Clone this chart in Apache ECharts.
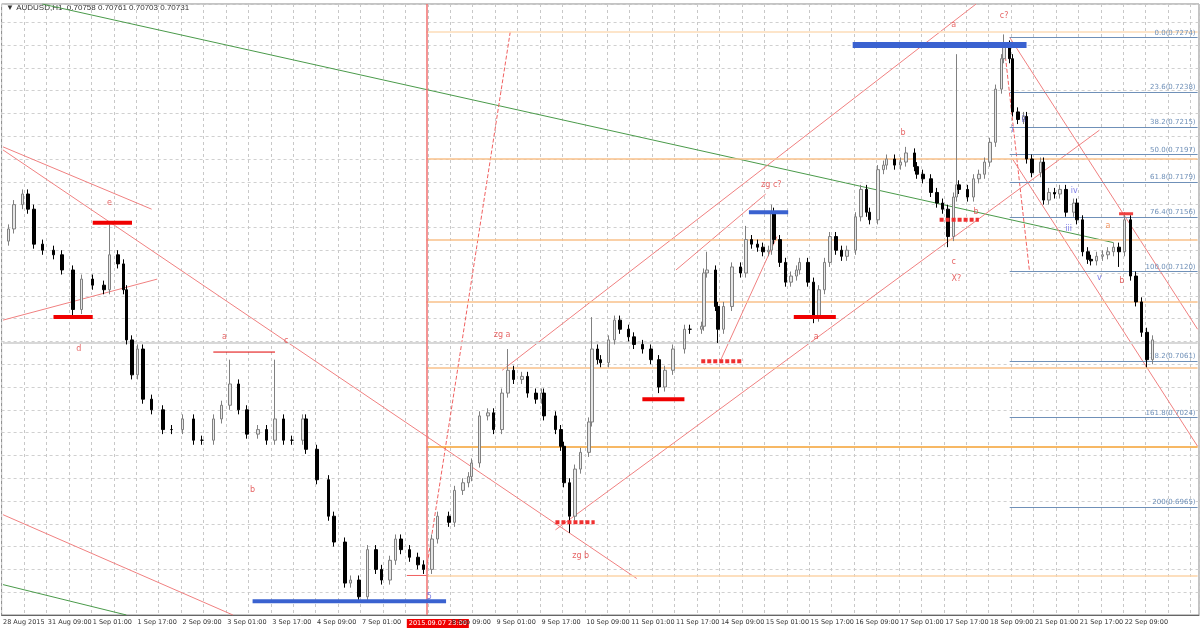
<!DOCTYPE html>
<html>
<head>
<meta charset="utf-8">
<script src="https://cdn.jsdelivr.net/npm/echarts@6/dist/echarts.min.js"></script>
<style>html,body{margin:0;padding:0;background:#fff}#chart{width:1200px;height:630px}</style>
</head>
<body>
<div id="chart"></div>
<script>
// hour index (bar number from 28 Aug) of each traced candle
const bars = [2,4,7,9,11,14,18,21,25,28,32,36,38,41,43,44,46,48,50,53,
  57,60,64,68,71,75,78,81,84,87,91,94,97,100,103,107,108,112,116,118,
  122,124,127,130,133,135,138,140,142,145,148,150,153,155,159,161,164,166,167,170,
  173,175,178,180,182,185,187,190,192,193,197,199,200,202,204,206,209,210,212,213,
  216,218,220,223,225,228,231,234,236,239,243,245,249,250,251,254,255,257,260,263,
  265,267,269,271,273,274,275,277,279,281,283,284,287,289,291,293,295,297,299,301,
  304,306,308,309,312,314,315,318,320,322,325,326,328,331,333,335,337,339,340,341,
  344,346,348,350,352,354,356,357,359,360,362,364,365,367,370,371,373,375,377,379,
  382,383,385,387,388,390,392,394,396,398,400,402,404,406,408,410];
const closes = [0.7148,0.7164,0.7171,0.7161,0.7138,0.7134,0.7131,0.7121,0.7095,0.7115,
  0.7111,0.7108,0.7131,0.7125,0.7108,0.7075,0.7052,0.7069,0.7036,0.7029,
  0.7016,0.7016,0.7023,0.7009,0.7009,0.7023,0.7032,0.7046,0.7029,0.7013,
  0.7016,0.7009,0.7023,0.7009,0.7009,0.7023,0.7003,0.6983,0.6959,0.6942,
  0.6915,0.6917,0.6906,0.6937,0.6924,0.6917,0.6930,0.6944,0.6937,0.6932,
  0.6927,0.6924,0.6944,0.6959,0.6955,0.6976,0.6981,0.6985,0.6994,0.7025,
  0.7027,0.7016,0.7040,0.7055,0.7049,0.7051,0.7040,0.7036,0.7040,0.7025,
  0.7016,0.7005,0.6981,0.6959,0.6990,0.7001,0.7021,0.7069,0.7062,0.7060,
  0.7075,0.7088,0.7082,0.7077,0.7072,0.7069,0.7062,0.7044,0.7055,0.7069,
  0.7082,0.7082,0.7084,0.7119,0.7121,0.7097,0.7082,0.7097,0.7123,0.7119,
  0.7141,0.7138,0.7136,0.7133,0.7134,0.7159,0.7141,0.7126,0.7113,0.7117,
  0.7121,0.7126,0.7113,0.7090,0.7108,0.7126,0.7143,0.7134,0.7130,0.7134,
  0.7156,0.7174,0.7159,0.7154,0.7187,0.7190,0.7194,0.7190,0.7192,0.7198,
  0.7189,0.7184,0.7181,0.7172,0.7165,0.7161,0.7143,0.7169,0.7177,0.7174,
  0.7169,0.7181,0.7184,0.7192,0.7205,0.7240,0.7260,0.7269,0.7260,0.7225,
  0.7220,0.7222,0.7194,0.7185,0.7192,0.7167,0.7172,0.7171,0.7174,0.7159,
  0.7165,0.7154,0.7133,0.7128,0.7127,0.7130,0.7131,0.7133,0.7136,0.7133,
  0.7154,0.7117,0.7100,0.7080,0.7062,0.7075];
const firstOpen = 0.7140;
// wick extremes read where a shadow sticks out clearly
const spikeHigh = {7:0.7174,38:0.7151,81:0.7062,97:0.7062,180:0.7069,210:0.7090,251:0.7133,
  265:0.7150,274:0.7164,322:0.7202,340:0.7263,357:0.7276,400:0.7159};
const spikeLow = {25:0.7090,127:0.6902,202:0.6948,234:0.7040,255:0.7073,289:0.7086,337:0.7136,
  398:0.7123,408:0.7057};

const xLabels = ['28 Aug 2015','31 Aug 09:00','1 Sep 01:00','1 Sep 17:00','2 Sep 09:00','3 Sep 01:00',
  '3 Sep 17:00','4 Sep 09:00','7 Sep 01:00','2015.09.07 23:00','8 Sep 09:00','9 Sep 01:00','9 Sep 17:00',
  '10 Sep 09:00','11 Sep 01:00','11 Sep 17:00','14 Sep 09:00','15 Sep 01:00','15 Sep 17:00','16 Sep 09:00',
  '17 Sep 01:00','17 Sep 17:00','18 Sep 09:00','21 Sep 01:00','21 Sep 17:00','22 Sep 09:00'];

const fibLevels = [['0.0',0.7274],['23.6',0.7238],['38.2',0.7215],['50.0',0.7197],['61.8',0.7179],
  ['76.4',0.7156],['100.0',0.7120],['138.2',0.7061],['161.8',0.7024],['200',0.6965]];
const orangeLevels = [[0.7278,'#fcdcb8'],[0.7194,'#f9c08a'],[0.7141,'#f9c08a'],[0.7100,'#f9c08a'],
  [0.7057,'#f9c08a'],[0.7005,'#f5a030'],[0.6920,'#fcd4a8']];

// [x1, y1, x2, y2, colour, dashed]
const trendLines = [
  [0,0.7202,53,0.7161,'#f08080',false],
  [0,0.7200,226,0.6918,'#f08080',false],
  [0,0.7088,55,0.7115,'#f08080',false],
  [0,0.6960,82,0.6894,'#f08080',false],
  [0,0.6914,44,0.6894,'#4a9a4a',false],
  [14,0.7296,396,0.7139,'#4a9a4a',false],
  [197,0.6950,391,0.7213,'#f08080',false],
  [178,0.7055,347,0.7296,'#f08080',false],
  [240,0.7121,272,0.7171,'#f08080',false],
  [256,0.7062,276,0.7143,'#f08080',false],
  [151,0.6924,181,0.7279,'#f06060',true],
  [357,0.7269,366,0.7121,'#f06060',true],
  [359,0.7274,426,0.7082,'#f08080',false],
  [360,0.7194,426,0.7005,'#f08080',false]
];
// [from, to, price, colour, width, dashed]
const levelMarks = [
  [18,32,0.7090,'#f00000',4,false],[32,46,0.7152,'#f00000',4,false],[75,97,0.7067,'#e00000',1,false],
  [228,243,0.7036,'#f00000',4,false],[249,264,0.7061,'#f03030',4,true],[197,211,0.6955,'#f03030',4,true],
  [282,297,0.7090,'#f00000',4,false],[334,348,0.7154,'#f03030',4,true],[144,151,0.6920,'#f06060',1,false],
  [398,403,0.7158,'#f04040',3,false],
  [303,365,0.7269,'#3a62d0',6,false],[266,280,0.7159,'#3a62d0',4,false],[89,158,0.6903,'#3a62d0',4,false]
];
// [bar, price, text, colour]
const waveLabels = [
  [38,0.7165,'e','#e04040'],[27,0.7069,'d','#e04040'],[79,0.7077,'a','#e04040'],[89,0.6976,'b','#e04040'],
  [101,0.7074,'c','#e04040'],[178,0.7078,'zg a','#e04040'],[274,0.7177,'zg c?','#e04040'],
  [206,0.6933,'zg b','#e04040'],[290,0.7077,'a','#e04040'],[321,0.7211,'b','#e04040'],
  [339,0.7282,'a','#e04040'],[357,0.7288,'c?','#e04040'],[347,0.7159,'b','#e04040'],
  [339,0.7126,'c','#e04040'],[340,0.7115,'X?','#e04040'],[399,0.7114,'b','#e04040'],
  [394,0.7150,'a','#f08040'],[382,0.7173,'iv','#6060e0'],[380,0.7148,'iii','#6060e0'],
  [391,0.7116,'v','#6060e0'],[360,0.7213,'i','#6060e0'],[364,0.7220,'ii','#6060e0'],[152,0.6906,'5','#6060e0']
];

const N = 427;
const cats = Array.from({length: N}, (_, i) => String(i));
const candles = cats.map(() => '-');
bars.forEach((b, i) => {
  if (i >= closes.length) return;
  const o = i ? closes[i - 1] : firstOpen, c = closes[i];
  const hi = spikeHigh[b] ?? Math.max(o, c) + 0.0003;
  const lo = spikeLow[b] ?? Math.min(o, c) - 0.0003;
  candles[b] = [o, c, lo, hi];
});

const chart = echarts.init(document.getElementById('chart'));
const series = [{
  type: 'candlestick', data: candles, barWidth: 3, z: 5,
  itemStyle: {color: '#e6e6e6', borderColor: '#808080', color0: '#000', borderColor0: '#000', borderWidth: 1}
}];
trendLines.forEach(([x1, y1, x2, y2, col, dash]) => series.push({
  type: 'line', data: [[x1, y1], [x2, y2]], symbol: 'none', silent: true, z: 3,
  lineStyle: {color: col, width: 1, type: dash ? 'dashed' : 'solid'}
}));
levelMarks.forEach(([a, b, p, col, w, dash]) => series.push({
  type: 'line', data: [[a, p], [b, p]], symbol: 'none', silent: true, z: 6,
  lineStyle: {color: col, width: w, type: dash ? [4, 2] : 'solid'}
}));
series.push({
  type: 'line', data: [], silent: true,
  markLine: {
    symbol: 'none', silent: true, animation: false,
    data: [
      ...orangeLevels.map(([p, col]) => [{coord: [151, p], lineStyle: {color: col, width: 1.5, type: 'solid'}}, {coord: [426, p]}]),
      [{coord: [0, 0.7073], lineStyle: {color: '#d8d8d8', width: 2, type: 'solid'}}, {coord: [426, 0.7073]}],
      [{coord: [151, 0.6894], lineStyle: {color: '#f07070', width: 1.5, type: 'solid'}}, {coord: [151, 0.7296]}],
      ...fibLevels.map(([f, p]) => [{coord: [359, p], lineStyle: {color: '#6f90b8', width: 1, type: 'solid'},
        label: {show: true, position: 'insideEndTop', formatter: f + '(' + p.toFixed(4) + ')', color: '#6f90b8', fontSize: 7, distance: [2, 1]}},
        {coord: [426, p]}])
    ],
    label: {show: false}
  }
});
series.push({
  type: 'scatter', symbolSize: 0, silent: true, z: 10,
  data: waveLabels.map(([b, p, t, col]) => ({value: [b, p], label: {formatter: t, color: col}})),
  label: {show: true, position: 'inside', fontSize: 8, fontFamily: 'DejaVu Sans'}
});

chart.setOption({
  animation: false,
  textStyle: {fontFamily: 'DejaVu Sans'},
  graphic: [{type: 'text', left: 6, top: 4, style: {text: '▼ AUDUSD,H1  0.70758 0.70761 0.70703 0.70731', fontSize: 8, fill: '#333'}}],
  grid: {left: 1, right: 1, top: 4, bottom: 15, show: true, borderColor: '#888', borderWidth: 1},
  xAxis: {
    type: 'category', data: cats, boundaryGap: true,
    axisLine: {lineStyle: {color: '#666'}}, axisTick: {show: false},
    axisLabel: {
      interval: 15, align: 'left', fontSize: 6.5, color: '#333', margin: 4, hideOverlap: false,
      showMinLabel: true,
      formatter: v => {
        const k = Number(v) / 16, t = xLabels[k] || '';
        return k === 9 ? '{r|' + t + '}' : t;
      },
      rich: {r: {backgroundColor: '#f00000', color: '#fff', fontSize: 6.5, padding: [1, 2]}}
    },
    splitLine: {show: true, interval: 7, lineStyle: {color: '#c8c8c8', type: [3, 3]}}
  },
  yAxis: {
    type: 'value', min: 0.6894, max: 0.7296, interval: 0.0015, position: 'right',
    axisLabel: {show: false}, axisLine: {show: false}, axisTick: {show: false},
    splitLine: {show: true, lineStyle: {color: '#d0d0d0', type: [3, 3]}}
  },
  series
});
</script>
</body>
</html>
